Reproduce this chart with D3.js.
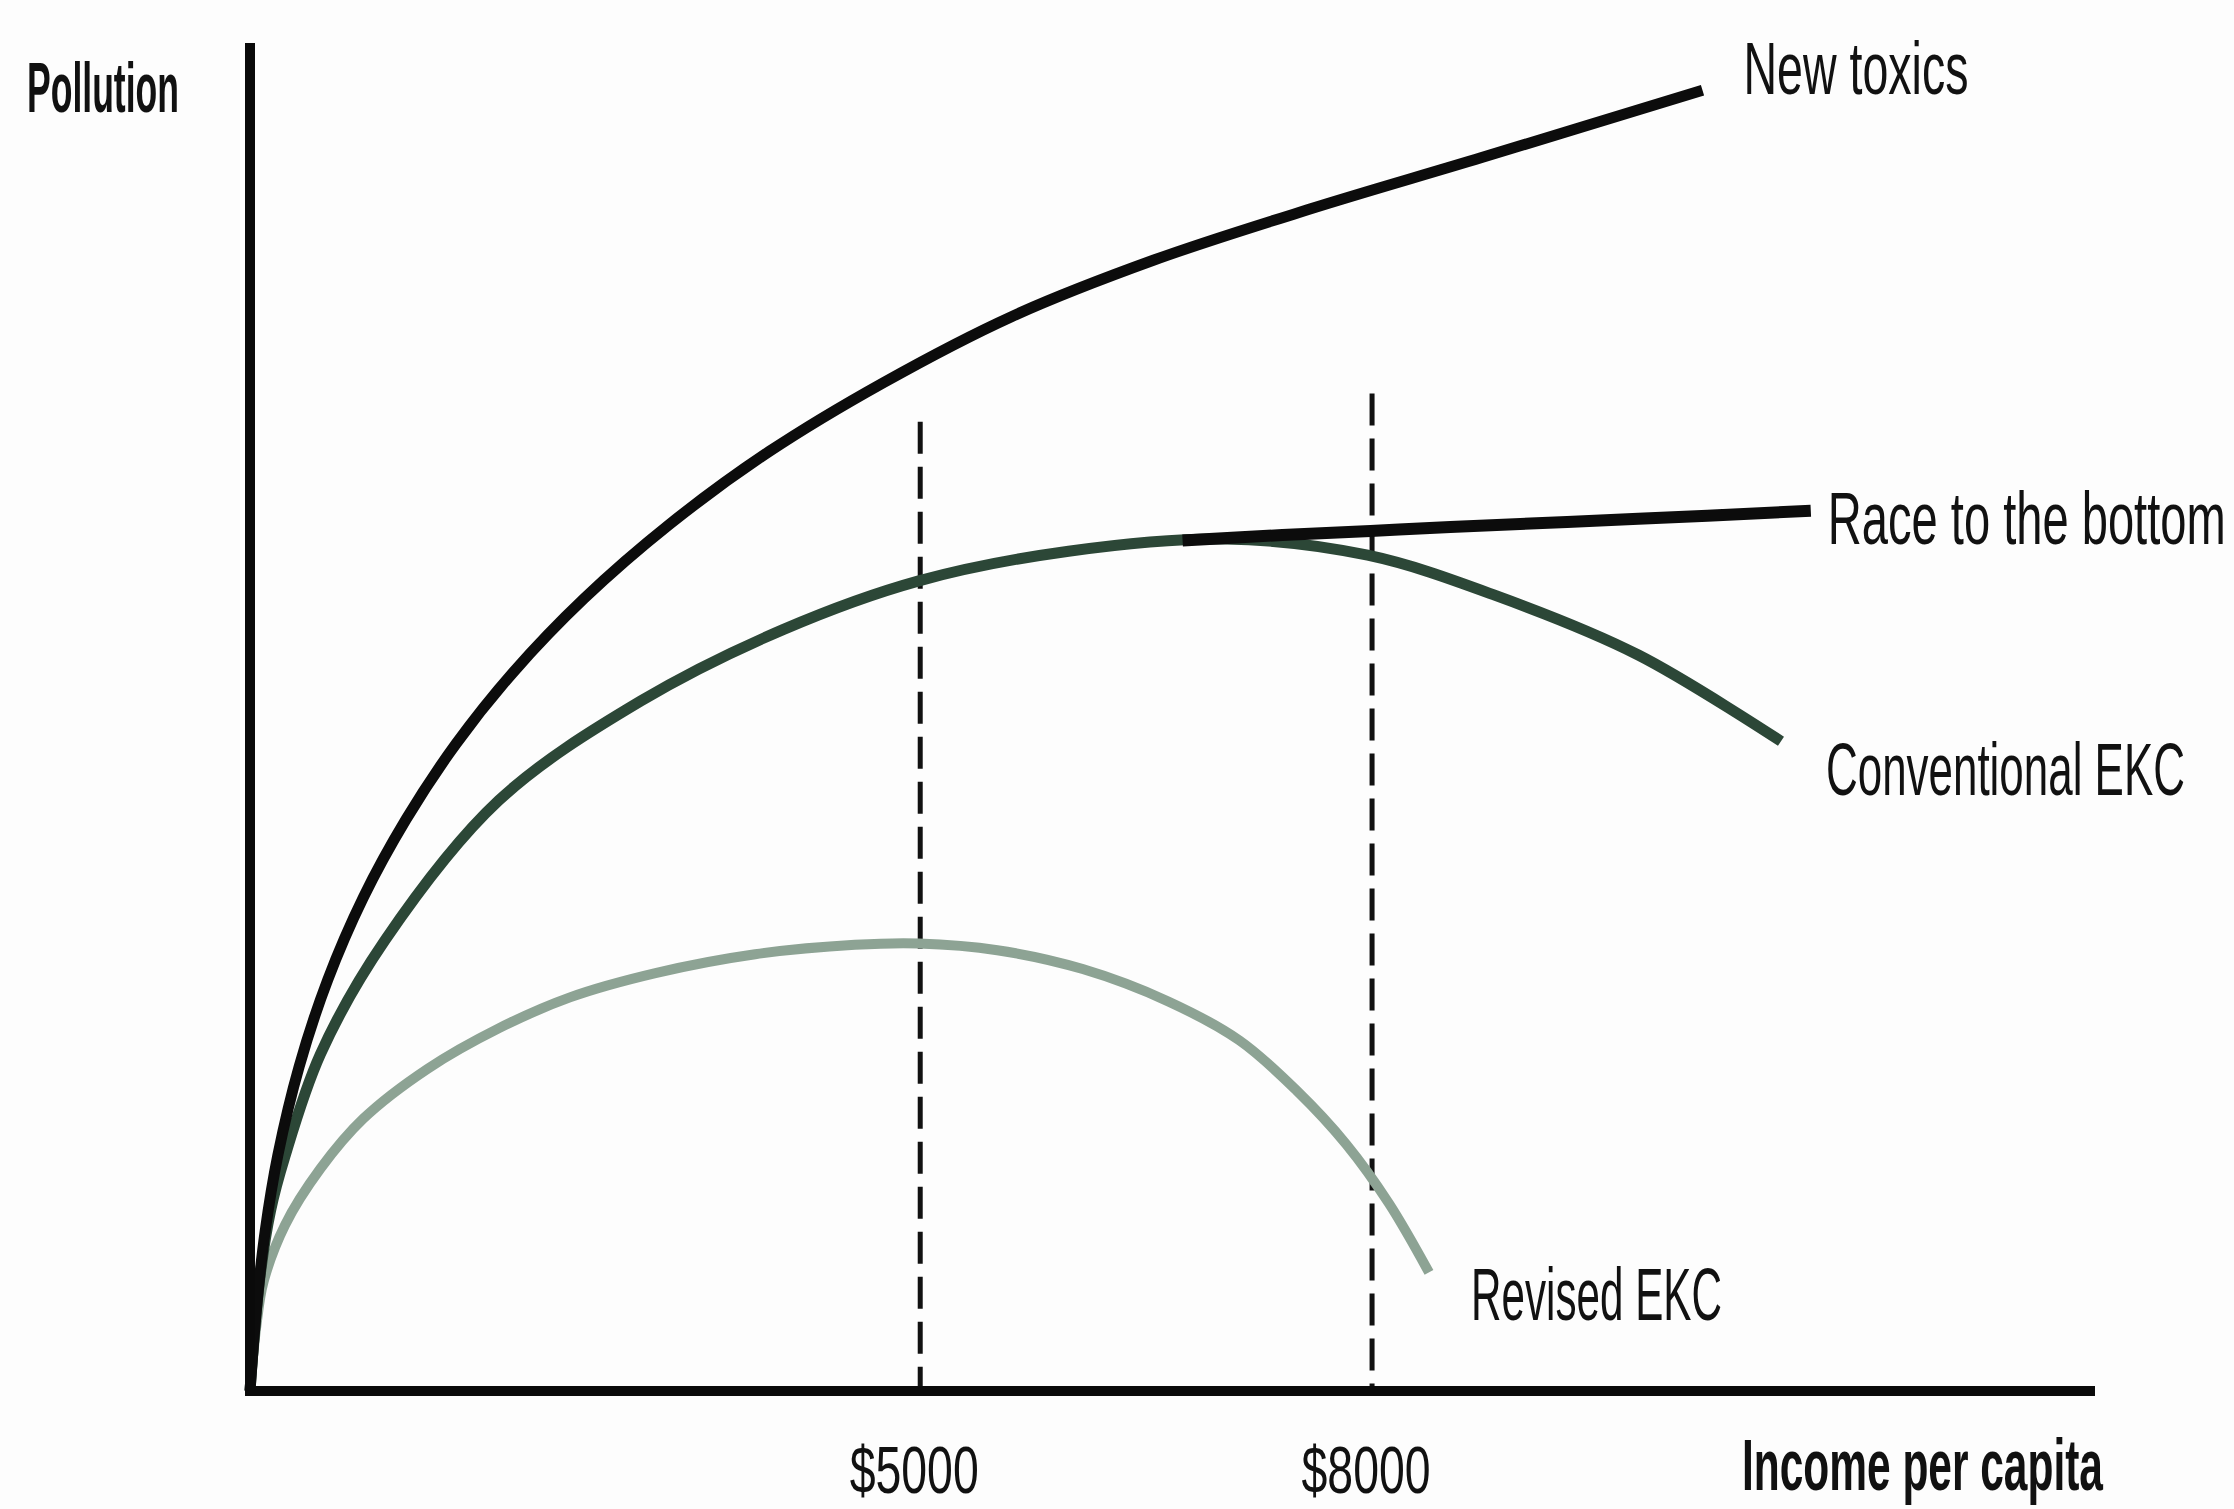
<!DOCTYPE html>
<html>
<head>
<meta charset="utf-8">
<script src="https://cdn.jsdelivr.net/npm/d3@7"></script>
<style>
  html, body { margin: 0; padding: 0; background: #fdfdfd; }
  svg { display: block; }
  text { font-family: "Liberation Sans Narrow", "Liberation Sans", "DejaVu Sans Condensed", sans-serif; fill: #111; }
</style>
</head>
<body>
<svg width="2234" height="1509"></svg>
<script>
// income per capita ($) and pollution index
const newToxicsIncome = [550, 593, 650, 735, 877, 1066, 1302, 1586, 1917, 2296, 2769, 3336, 3998, 4755, 5606, 6552, 7593, 8728, 10194];
const newToxicsValue  = [0, 6.1, 11.8, 17.5, 24.1, 30.5, 36.6, 42.4, 48.0, 53.3, 58.8, 64.3, 69.7, 74.8, 79.7, 83.9, 87.7, 91.5, 96.5];

const conventionalIncome = [550, 612, 687, 782, 1018, 1444, 2201, 3147, 4093, 4991, 5985, 7025, 7971, 8823, 9768, 10715];
const conventionalValue  = [0, 8.1, 13.4, 17.4, 25.0, 33.4, 43.8, 51.2, 56.5, 60.1, 62.3, 63.2, 62.0, 59.0, 54.6, 48.2];

const raceIncome = [6742, 7404, 7990, 8520, 9768, 10913];
const raceValue  = [63.1, 63.5, 63.8, 64.1, 64.7, 65.3];

const revisedIncome = [550, 593, 640, 782, 1018, 1302, 1729, 2201, 2674, 3242, 3904, 4566, 4991, 5512, 6079, 6647, 7120, 7498, 7829, 8113, 8378];
const revisedValue  = [0, 4.9, 8.1, 12.3, 16.5, 20.2, 23.9, 26.9, 29.2, 31.0, 32.4, 33.1, 33.2, 32.7, 31.3, 28.9, 26.0, 22.3, 18.3, 13.9, 8.8];

// income thresholds marked with dashed lines, and how high they reach
const thresholdIncome = [5000, 8000];
const thresholdTop    = [71.9, 74.0];
const thresholdLabels = ["$5000", "$8000"];

const seriesNames = ["New toxics", "Race to the bottom", "Conventional EKC", "Revised EKC"];

const svg = d3.select("svg");

const x = d3.scaleLinear().domain([550, 12800]).range([250, 2095]);
const y = d3.scaleLinear().domain([0, 100]).range([1391, 43]);

const toPoints = (xs, ys) => xs.map((v, i) => ({x: v, y: ys[i]}));

const series = [
    {name: seriesNames[3], data: toPoints(revisedIncome, revisedValue), color: "#8da394", width: 10, dx: 42, dy: 48, len: 251},
    {name: seriesNames[2], data: toPoints(conventionalIncome, conventionalValue), color: "#2c4737", width: 11, dx: 45, dy: 54, len: 359},
    {name: seriesNames[1], data: toPoints(raceIncome, raceValue), color: "#0c0c0c", width: 12, dx: 17, dy: 33, len: 398},
    {name: seriesNames[0], data: toPoints(newToxicsIncome, newToxicsValue), color: "#0c0c0c", width: 11, dx: 41, dy: 4, len: 225}
];

const line = d3.line()
    .x(d => x(d.x))
    .y(d => y(d.y))
    .curve(d3.curveCatmullRom.alpha(0.5));

// squeeze a text horizontally to the width it has in the picture
function fitText(sel, width) {
    sel.each(function(d) {
        const el = d3.select(this);
        const w = typeof width === "function" ? width(d) : width;
        const len = this.getComputedTextLength();
        const px = +el.attr("x"), py = +el.attr("y");
        const anchor = el.attr("text-anchor");
        const left = anchor === "middle" ? px - w / 2 : px;
        el.attr("x", 0).attr("y", 0).attr("text-anchor", "start")
          .attr("transform", `translate(${left},${py}) scale(${w / len},1)`);
    });
}

// dashed reference lines
svg.selectAll(".threshold")
    .data(thresholdIncome)
    .join("line")
    .attr("class", "threshold")
    .attr("x1", d => x(d))
    .attr("x2", d => x(d))
    .attr("y1", (d, i) => y(thresholdTop[i]))
    .attr("y2", y(0))
    .attr("stroke", "#111")
    .attr("stroke-width", 5)
    .attr("stroke-dasharray", "32,13");

// curves
svg.selectAll(".curve")
    .data(series)
    .join("path")
    .attr("class", "curve")
    .attr("d", d => line(d.data))
    .attr("fill", "none")
    .attr("stroke", d => d.color)
    .attr("stroke-width", d => d.width)
    .attr("stroke-linecap", "butt");

// axes (plain lines, no ticks)
const [x0, x1] = x.range();
const [y0, y1] = y.range();
svg.append("line")
    .attr("x1", x0).attr("x2", x0)
    .attr("y1", y1).attr("y2", y0 + 5)
    .attr("stroke", "#0a0a0a").attr("stroke-width", 10);
svg.append("line")
    .attr("x1", x0 - 5).attr("x2", x1)
    .attr("y1", y0).attr("y2", y0)
    .attr("stroke", "#0a0a0a").attr("stroke-width", 10);

// curve labels next to the line ends
svg.selectAll(".label")
    .data(series)
    .join("text")
    .attr("class", "label")
    .attr("x", d => x(d.data[d.data.length - 1].x) + d.dx)
    .attr("y", d => y(d.data[d.data.length - 1].y) + d.dy)
    .attr("font-size", 74)
    .text(d => d.name)
    .call(fitText, d => d.len);

// income tick labels
svg.selectAll(".tick")
    .data(thresholdIncome)
    .join("text")
    .attr("class", "tick")
    .attr("x", d => x(d) - 6)
    .attr("y", 1493)
    .attr("text-anchor", "middle")
    .attr("font-size", 66)
    .text((d, i) => thresholdLabels[i])
    .call(fitText, 129);

// axis titles
svg.append("text")
    .attr("x", 27).attr("y", 112)
    .attr("font-size", 70)
    .attr("font-weight", "bold")
    .text("Pollution")
    .call(fitText, 152);

svg.append("text")
    .attr("x", 1742).attr("y", 1490)
    .attr("font-size", 72)
    .attr("font-weight", "bold")
    .text("Income per capita")
    .call(fitText, 361);
</script>
</body>
</html>
